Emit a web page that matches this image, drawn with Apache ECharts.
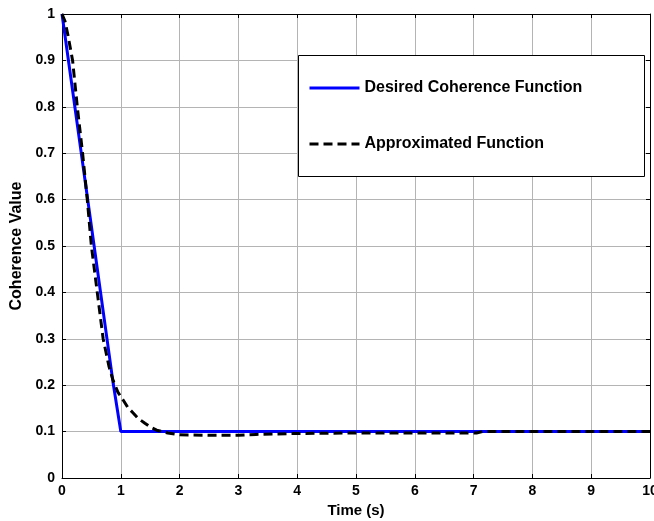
<!DOCTYPE html>
<html><head><meta charset="utf-8">
<script src="https://cdn.jsdelivr.net/npm/echarts@6/dist/echarts.min.js"></script>
<style>html,body{margin:0;padding:0;background:#fff;overflow:hidden}#c{width:654px;height:521px}</style>
</head><body><div id="c"></div>
<script>
var seriesNames = ['Desired Coherence Function', 'Approximated Function'];
var desired = [[0,1],[0.87,0.204],[1,0.1],[10,0.1]];
var approx = [[0,1],[0.05,0.985],[0.1,0.955],[0.18,0.9],[0.26,0.8],[0.35,0.7],[0.43,0.6],[0.5,0.5],[0.6,0.4],[0.7,0.3],[0.8,0.24],[0.87,0.21],[0.95,0.185],[1.04,0.168],[1.12,0.152],[1.21,0.14],[1.3,0.128],[1.41,0.118],[1.5,0.11],[1.61,0.103],[1.8,0.097],[2,0.093],[2.5,0.092],[3,0.092],[3.3,0.094],[4,0.096],[5,0.097],[6,0.097],[7.05,0.097],[7.15,0.1],[10,0.1]];
var xTicks = {min:0, max:10, interval:1};
var yTicks = {min:0, max:1, interval:0.1};

var F = '"Liberation Sans", Arial, sans-serif';
var chart = echarts.init(document.getElementById('c'));
var axisCommon = {
  axisLine:{show:true,onZero:false,lineStyle:{color:'#000',width:1}},
  axisTick:{show:true,inside:true,length:4,lineStyle:{color:'#000'}},
  splitLine:{show:false}
};
chart.setOption({
  animation:false,
  backgroundColor:'#fff',
  grid:{left:62,right:4,top:14,bottom:43,containLabel:false,outerBoundsMode:'none'},
  xAxis:[
    Object.assign({type:'value',position:'bottom',min:xTicks.min,max:xTicks.max,interval:xTicks.interval,
      name:'Time (s)',nameLocation:'middle',nameGap:25,
      nameTextStyle:{fontFamily:F,fontWeight:'bold',fontSize:15,color:'#000'},
      axisLabel:{fontFamily:F,fontWeight:'bold',fontSize:14,color:'#000',margin:6,hideOverlap:false},
    }, axisCommon, {splitLine:{show:true,lineStyle:{color:'#b4b4b4',width:1}}}),
    Object.assign({type:'value',position:'top',min:xTicks.min,max:xTicks.max,interval:xTicks.interval,
      axisLabel:{show:false}}, axisCommon)
  ],
  yAxis:[
    Object.assign({type:'value',position:'left',min:yTicks.min,max:yTicks.max,interval:yTicks.interval,
      name:'Coherence Value',nameLocation:'middle',nameGap:33,
      nameTextStyle:{fontFamily:F,fontWeight:'bold',fontSize:16,color:'#000'},
      axisLabel:{fontFamily:F,fontWeight:'bold',fontSize:14,color:'#000',margin:7},
    }, axisCommon, {splitLine:{show:true,lineStyle:{color:'#b4b4b4',width:1}}}),
    Object.assign({type:'value',position:'right',min:yTicks.min,max:yTicks.max,interval:yTicks.interval,
      axisLabel:{show:false}}, axisCommon)
  ],
  graphic:[{type:'rect',left:298,top:55,z:50,
    shape:{width:346,height:121},style:{fill:'#fff',stroke:'#000',lineWidth:1}}],
  legend:{
    orient:'vertical',left:303,top:75,z:60,
    itemWidth:50,itemHeight:16,itemGap:40,
    itemStyle:{opacity:0},
    lineStyle:{width:3},
    textStyle:{fontFamily:F,fontWeight:'bold',fontSize:16,color:'#000',lineHeight:16},
    data:seriesNames
  },
  series:[
    {name:seriesNames[0],type:'line',data:desired,showSymbol:false,symbol:'none',
     lineStyle:{color:'#0000ff',width:3},itemStyle:{color:'#0000ff'},z:2},
    {name:seriesNames[1],type:'line',data:approx,showSymbol:false,symbol:'none',smooth:false,
     lineStyle:{color:'#000',width:3,type:[9,5]},itemStyle:{color:'#000'},z:3}
  ]
});
</script></body></html>
